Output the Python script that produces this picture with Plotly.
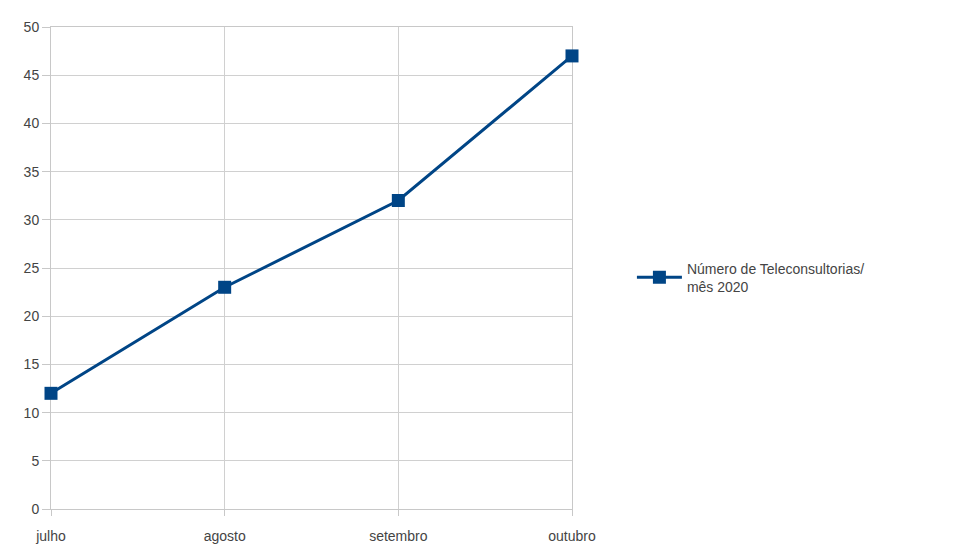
import plotly.graph_objects as go

months = ["julho", "agosto", "setembro", "outubro"]
values = [12, 23, 32, 47]
series_name = "Número de Teleconsultorias/<br>mês 2020"

fig = go.Figure()
fig.add_trace(go.Scatter(
    x=months, y=values, mode="lines+markers", name=series_name,
    line=dict(color="#004586", width=3),
    marker=dict(symbol="square", size=13, color="#004586"),
    cliponaxis=False,
))

fig.update_layout(
    width=963, height=546,
    margin=dict(l=51, r=391, t=27, b=37),
    paper_bgcolor="white", plot_bgcolor="white",
    font=dict(family="Liberation Sans, Arial, sans-serif", size=14, color="#444444"),
    showlegend=True,
    legend=dict(x=1.115, y=0.48, xanchor="left", yanchor="middle", itemwidth=45,
                font=dict(size=14, color="#444444"), bgcolor="rgba(0,0,0,0)"),
    xaxis=dict(type="category", range=[0, 3], showgrid=True, gridcolor="#d0d0d0",
               showline=True, linecolor="#c8c8c8", mirror=True,
               ticks="outside", ticklen=6, tickcolor="#c8c8c8", zeroline=False,
               ticklabelstandoff=8, automargin=False, layer="below traces",
               tickfont=dict(size=14, color="#444444")),
    yaxis=dict(range=[0, 50], dtick=5, showgrid=True, gridcolor="#d0d0d0",
               showline=True, linecolor="#c8c8c8", mirror=True,
               ticks="outside", ticklen=8, tickcolor="#c8c8c8", zeroline=False,
               automargin=False, layer="below traces",
               tickfont=dict(size=14, color="#444444")),
)

fig.write_html("out.html")
